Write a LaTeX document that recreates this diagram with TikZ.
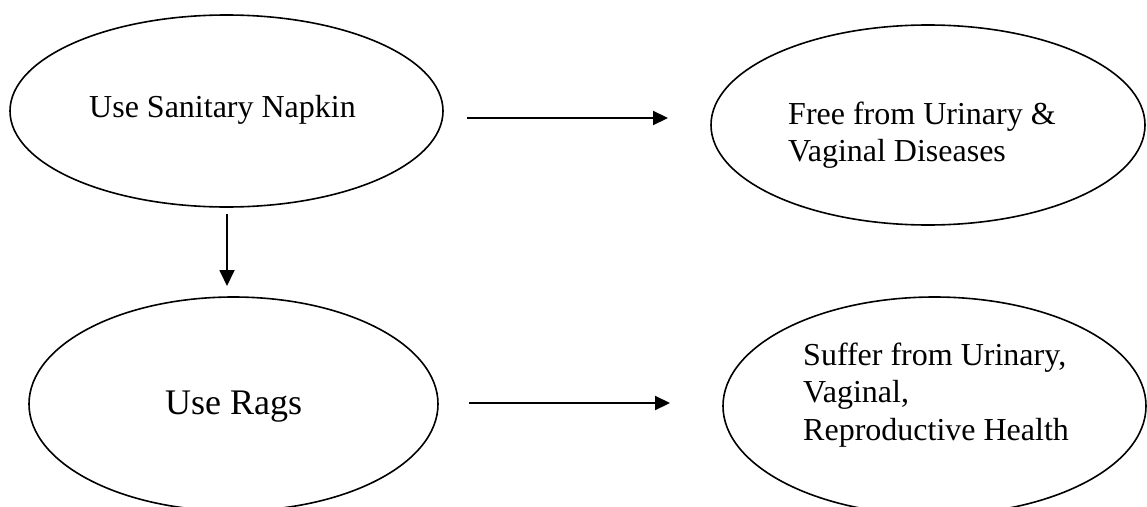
\documentclass[tikz,border=0pt]{standalone}
\usepackage{fontspec}
\setmainfont{Liberation Serif}
\usetikzlibrary{shapes.geometric,arrows.meta}
\begin{document}
\begin{tikzpicture}[x=1pt,y=-1pt,
  oval/.style={draw, line width=1.6pt, ellipse, inner sep=0pt},
  lbl/.style={inner sep=0pt, anchor=base west, align=left, font=\fontsize{32}{37.5}\selectfont},
  arr/.style={line width=2.2pt, -{Triangle[length=15pt,width=14pt]}},
  varr/.style={line width=1.8pt, -{Triangle[length=16pt,width=15pt]}}]
\clip (0,0) rectangle (1147,506);
\fill[white] (0,0) rectangle (1147,506);
% ellipses
\node[oval, minimum width=433pt, minimum height=192pt] (e1) at (226.5,111) {};
\node[oval, minimum width=434pt, minimum height=200pt] (e2) at (928,125) {};
\node[oval, minimum width=409pt, minimum height=214pt] (e3) at (233.5,404) {};
\node[oval, minimum width=423pt, minimum height=218pt] (e4) at (934.5,406) {};
% texts (base anchor = baseline of the last line)
\node[lbl] (t1) at (89,117) {Use Sanitary Napkin};
\node[lbl] (t2) at (788,161.5) {Free from Urinary \&\\Vaginal Diseases};
\node[lbl, font=\fontsize{36}{42}\selectfont] (t3) at (165,414) {Use Rags};
\node[lbl] (t4) at (803,440) {Suffer from Urinary,\\Vaginal,\\Reproductive Health};
% arrow end points
\coordinate (h1s) at (467,118);
\coordinate (h1e) at (668,118);
\coordinate (h2s) at (469,403);
\coordinate (h2e) at (670,403);
\coordinate (v1s) at (227,214);
\coordinate (v1e) at (227,286);
\draw[arr] (h1s) -- (h1e);
\draw[arr] (h2s) -- (h2e);
\draw[varr] (v1s) -- (v1e);
\end{tikzpicture}
\end{document}
